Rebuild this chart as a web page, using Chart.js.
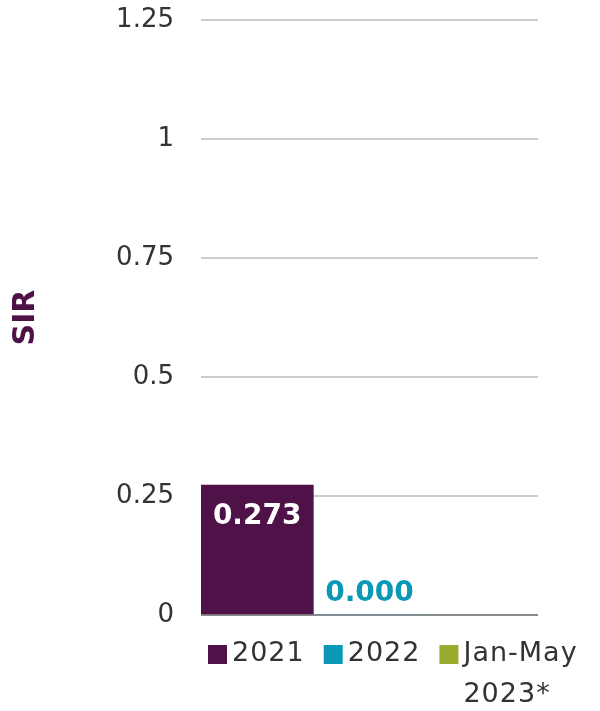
<!DOCTYPE html>
<html>
<head>
<meta charset="utf-8">
<script src="https://cdn.jsdelivr.net/npm/chart.js@4/dist/chart.umd.min.js"></script>
<style>
  html, body { margin: 0; padding: 0; background: #fff; }
  #wrap { width: 600px; height: 711px; position: relative; }
</style>
</head>
<body>
<div id="wrap"><canvas id="chart"></canvas></div>
<script>
// data
const seriesNames = ["2021", "2022", ["Jan-May", "2023*"]];
const seriesValues = [0.273, 0.0, null];
const seriesColors = ["#4e1248", "#0b97b6", "#9bab2e"];
const yTickLabels = ["0", "0.25", "0.5", "0.75", "1", "1.25"];
const yTitle = "SIR";

const FONT = "'DejaVu Sans', sans-serif";
const TEXT = "#333333";

// value labels: inside the bar in white if it fits, else just above in the series colour
const valueLabels = {
  id: "valueLabels",
  afterDatasetsDraw(chart) {
    const ctx = chart.ctx;
    ctx.save();
    ctx.font = "bold 28px " + FONT;
    ctx.textAlign = "center";
    ctx.textBaseline = "middle";
    chart.data.datasets.forEach((ds, i) => {
      const v = ds.data[0];
      if (v === null) return;
      const bar = chart.getDatasetMeta(i).data[0];
      const h = bar.base - bar.y;
      if (h > 60) {
        ctx.fillStyle = "#ffffff";
        ctx.fillText(v.toFixed(3), bar.x, bar.y + 32);
      } else {
        ctx.fillStyle = ds.backgroundColor;
        ctx.fillText(v.toFixed(3), bar.x, bar.y - 21);
      }
    });
    ctx.restore();
  }
};

// legend drawn under the plot, starting from the left edge of the plot area
const bottomLegend = {
  id: "bottomLegend",
  afterDraw(chart) {
    const ctx = chart.ctx;
    const area = chart.chartArea;
    ctx.save();
    ctx.font = "27px " + FONT;
    ctx.letterSpacing = "1px";
    ctx.textBaseline = "middle";
    ctx.textAlign = "left";
    let x = area.left + 7;
    const y = area.bottom + 39;
    const lineGap = 41;
    chart.data.datasets.forEach((ds) => {
      const lines = Array.isArray(ds.label) ? ds.label : [ds.label];
      ctx.fillStyle = ds.backgroundColor;
      ctx.fillRect(x, y - 9, 19, 19);
      ctx.fillStyle = TEXT;
      let w = 0;
      lines.forEach((ln, k) => {
        ctx.fillText(ln, x + 24, y + k * lineGap);
        w = Math.max(w, ctx.measureText(ln).width);
      });
      x += 24 + w + 19;
    });
    ctx.restore();
  }
};

new Chart(document.getElementById("chart"), {
  type: "bar",
  data: {
    labels: [""],
    datasets: seriesNames.map((name, i) => ({
      label: name,
      data: [seriesValues[i]],
      backgroundColor: seriesColors[i],
      borderWidth: 0,
      barPercentage: 1,
      categoryPercentage: 1
    }))
  },
  options: {
    responsive: true,
    maintainAspectRatio: false,
    animation: false,
    layout: { padding: { top: 20, right: 62, bottom: 96, left: 0 } },
    plugins: {
      legend: { display: false },
      tooltip: { enabled: false }
    },
    scales: {
      x: { display: false },
      y: {
        min: 0,
        max: 1.25,
        ticks: {
          stepSize: 0.25,
          padding: 0,
          color: TEXT,
          font: { family: FONT, size: 26 },
          callback: (v, i) => yTickLabels[i]
        },
        grid: {
          drawTicks: true,
          tickLength: 27,
          tickColor: "rgba(0,0,0,0)",
          lineWidth: 2,
          color: (c) => (c.tick && c.tick.value === 0 ? "#8c8c8c" : "#cccccc")
        },
        border: { display: false },
        title: {
          display: true,
          text: yTitle,
          color: "#4e1248",
          font: { family: FONT, size: 30, weight: "bold" },
          padding: { top: 8, bottom: 0 }
        },
        afterFit(scale) { scale.width = 201; }
      }
    }
  },
  plugins: [valueLabels, bottomLegend]
});
</script>
</body>
</html>
